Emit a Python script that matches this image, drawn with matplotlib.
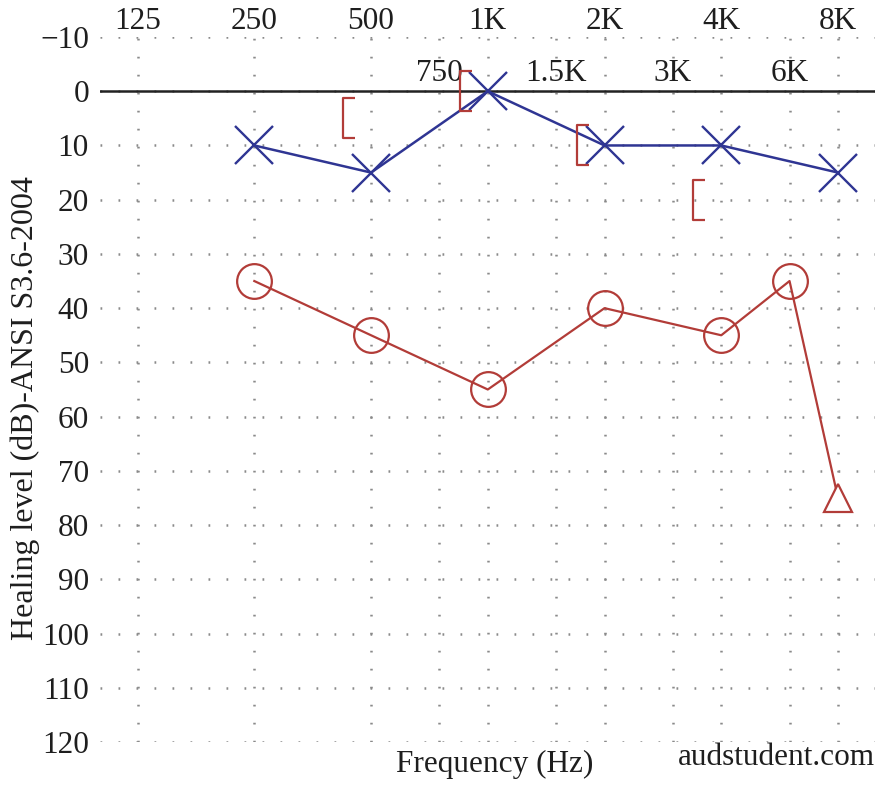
import matplotlib
matplotlib.use("Agg")
import matplotlib.pyplot as plt
from matplotlib.path import Path

plt.rcParams['font.family'] = ['Liberation Serif', 'DejaVu Serif']

# ---- data ----
main_freqs = [125, 250, 500, 1000, 2000, 4000, 8000]
main_labels = ["125", "250", "500", "1K", "2K", "4K", "8K"]
mid_freqs = [750, 1500, 3000, 6000]
mid_labels = ["750", "1.5K", "3K", "6K"]
db_ticks = list(range(-10, 121, 10))
db_labels = ["\u221210" if v < 0 else str(v) for v in db_ticks]

left_freqs = [250, 500, 1000, 2000, 4000, 8000]
left_air = [10, 15, 0, 10, 10, 15]

right_freqs = [250, 500, 1000, 2000, 4000, 6000]
right_air = [35, 45, 55, 40, 45, 35]
right_nr_freq = [8000]
right_nr_db = [75]

bone_freqs = [500, 1000, 2000, 4000]
bone_db = [5, 0, 10, 20]

# ---- style ----
BLUE = '#2f3593'
RED = '#b23c38'
GRID = '#8a8a8a'
TXT = '#1e1e1e'
FS = 22.5

fig = plt.figure(figsize=(8.83, 7.85), dpi=100)
ax = fig.add_axes([100/883, 1-742/785, 775/883, 705/785])
ax.set_xscale('log')
ax.set_xlim(100, 9966)
ax.set_ylim(120, -10)
for s in ax.spines.values():
    s.set_visible(False)

# grid
grid_kw = dict(color=GRID, lw=1.8, ls=(0, (0.7, 6.5)), zorder=1)
for f in main_freqs + mid_freqs:
    ax.axvline(f, **grid_kw)
for d in db_ticks:
    ax.axhline(d, **grid_kw)
ax.axhline(0, color='#222222', lw=1.8, zorder=2)

# ticks
ax.xaxis.tick_top()
ax.set_xticks(main_freqs)
ax.set_xticklabels(main_labels, fontsize=FS, color=TXT)
ax.set_xticks([], minor=True)
ax.tick_params(axis='x', which='both', length=0, pad=1)
ax.set_yticks(db_ticks)
ax.set_yticklabels(db_labels, fontsize=FS, color=TXT)
ax.tick_params(axis='y', length=0, pad=8)

for f, lab in zip(mid_freqs, mid_labels):
    ax.text(f, -3.2, lab, fontsize=FS, color=TXT, ha='center', va='center', zorder=3)

# data series
ax.plot(left_freqs, left_air, color=BLUE, lw=1.8, marker='x', ms=28,
        mew=1.7, zorder=5, clip_on=False)
ax.plot(right_freqs + right_nr_freq, right_air + right_nr_db, color=RED, lw=1.6,
        zorder=4, clip_on=False)
ax.plot(right_freqs, right_air, ls='none', marker='o', ms=25, mfc='none',
        mec=RED, mew=1.6, zorder=5, clip_on=False)
ax.plot(right_nr_freq, right_nr_db, ls='none', marker='^', ms=20, mfc='white',
        mec=RED, mew=1.6, zorder=5, clip_on=False)

bracket = Path([(-0.57, 0.7), (-1.0, 0.7), (-1.0, -0.7), (-0.57, -0.7)],
               [Path.MOVETO, Path.LINETO, Path.LINETO, Path.LINETO])
ax.plot(bone_freqs, bone_db, ls='none', marker=bracket, ms=41, mfc='none',
        mec=RED, mew=1.6, zorder=5, clip_on=False)

# labels
fig.text(25/883, 1-408/785, "Healing level (dB)-ANSI S3.6-2004", rotation=90,
         fontsize=23, color=TXT, ha='center', va='center')
fig.text(495/883, 1-772/785, "Frequency (Hz)", fontsize=FS, color=TXT,
         ha='center', va='baseline')
fig.text(875/883, 1-765/785, "audstudent.com", fontsize=FS, color=TXT,
         ha='right', va='baseline')

fig.savefig('out.png', dpi=100, facecolor='white')
